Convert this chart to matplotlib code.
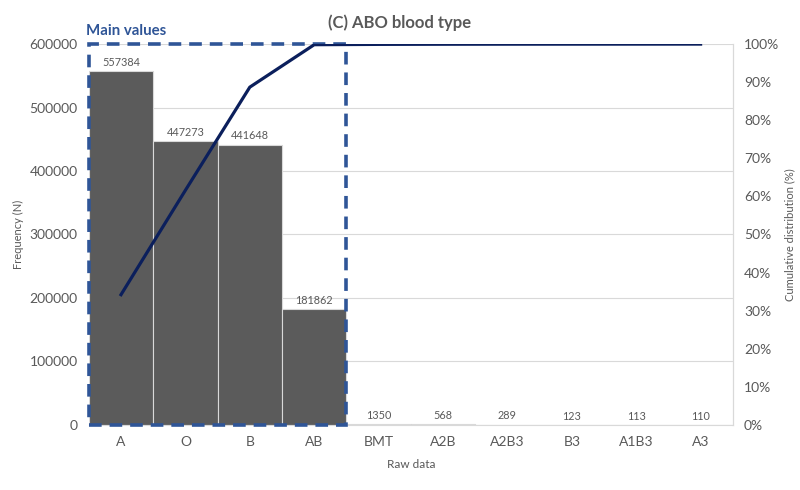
import matplotlib.pyplot as plt
from matplotlib.patches import Rectangle
from matplotlib.ticker import FuncFormatter

plt.rcParams['font.family'] = ['Lato', 'DejaVu Sans']

types = ['A', 'O', 'B', 'AB', 'BMT', 'A2B', 'A2B3', 'B3', 'A1B3', 'A3']
counts = [557384, 447273, 441648, 181862, 1350, 568, 289, 123, 113, 110]

total = sum(counts)
cum = []
running = 0
for c in counts:
    running += c
    cum.append(running / total)

grey = '#595959'
navy = '#0B1F5C'
blue = '#2F5597'

fig = plt.figure(figsize=(8, 4.9), dpi=100)
ax = fig.add_axes([0.111, 0.133, 0.805, 0.777])

x = list(range(len(types)))
ax.bar(x, counts, width=1.0, color='#5b5b5b', edgecolor='#d9d9d9', linewidth=0.8, zorder=2)
for i, c in enumerate(counts):
    ax.text(i, c + 5000, str(c), ha='center', va='bottom', fontsize=7.8, color=grey)

ax.set_xlim(-0.5, len(types) - 0.5)
ax.set_ylim(0, 600000)
ax.set_yticks(range(0, 600001, 100000))
ax.set_xticks(x)
ax.set_xticklabels(types)
ax.grid(axis='y', color='#d9d9d9', linewidth=0.8, zorder=0)
ax.set_axisbelow(True)
ax.tick_params(axis='both', length=0, labelsize=10, colors=grey, pad=8)
ax.set_ylabel('Frequency (N)', fontsize=8, color=grey)
ax.set_xlabel('Raw data', fontsize=8.5, color=grey, labelpad=8)
for s in ['top', 'left']:
    ax.spines[s].set_visible(False)
for s in ['bottom', 'right']:
    ax.spines[s].set_color('#d9d9d9')

ax2 = ax.twinx()
ax2.plot(x, cum, color=navy, linewidth=2.3, zorder=3)
ax2.set_ylim(0, 1)
ax2.set_yticks([i / 10 for i in range(11)])
ax2.yaxis.set_major_formatter(FuncFormatter(lambda v, p: f'{v * 100:.0f}%'))
ax2.tick_params(axis='y', length=0, labelsize=10, colors=grey, pad=8)
ax2.set_ylabel('Cumulative distribution (%)', fontsize=8, color=grey)
for s in ['top', 'left', 'bottom']:
    ax2.spines[s].set_visible(False)
ax2.spines['right'].set_color('#d9d9d9')

box = Rectangle((-0.5, 0), 4, 600000, fill=False, edgecolor=blue, linewidth=2.6,
                linestyle=(0, (3.5, 2.2)), clip_on=False, zorder=5)
ax.add_patch(box)
ax.text(-0.55, 610000, 'Main values', fontsize=10.8, fontweight='bold', color=blue,
        ha='left', va='bottom')

fig.suptitle('(C) ABO blood type', fontsize=12, fontweight='bold', color=grey, x=0.5, y=0.97)

fig.savefig('out.png', dpi=100)
